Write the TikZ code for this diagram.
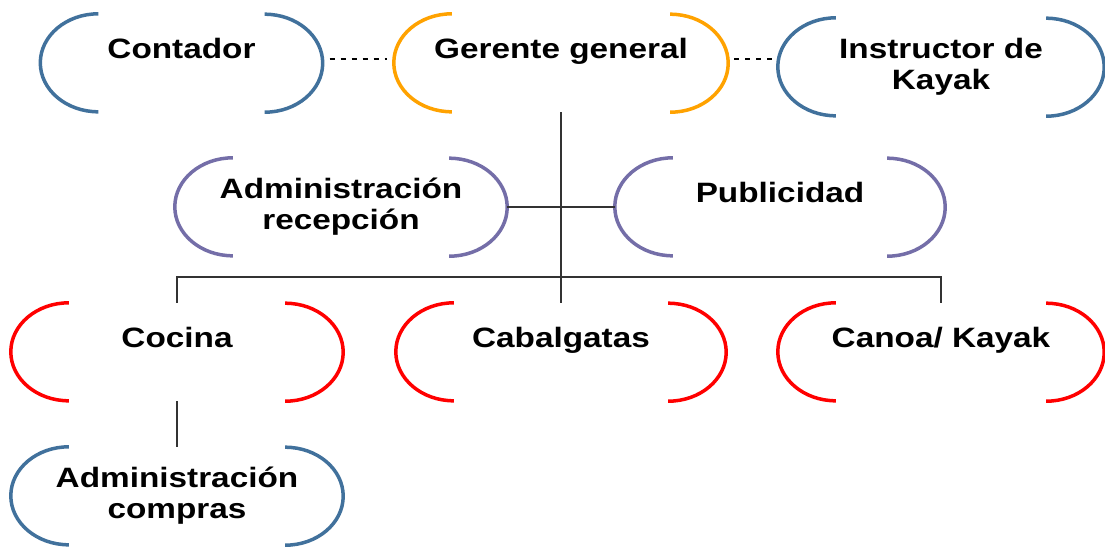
\documentclass[tikz,border=0pt]{standalone}
\usepackage{fontspec}
\newfontfamily\arial{Liberation Sans}[FakeStretch=1.19]
\definecolor{azul}{RGB}{65,113,156}
\definecolor{naranja}{RGB}{255,162,0}
\definecolor{lila}{RGB}{116,110,168}
\definecolor{rojo}{RGB}{255,0,0}

\begin{document}
\begin{tikzpicture}[x=1pt,y=1pt,font=\arial\bfseries\fontsize{28}{31}\selectfont,
  caja/.style={minimum width=330, minimum height=98, inner sep=0pt, align=center},
  arriba/.style={text height=20, text depth=30},
  enlace/.style={line width=1.3, black!80},
  punteado/.style={line width=1.2, black, dash pattern=on 5pt off 6pt}]

\useasboundingbox (0,0) rectangle (1105,-547);

\pgfmathsetmacro{\ancho}{58}
\pgfmathsetmacro{\alto}{49}

\node[caja, arriba, minimum width=282] (contador) at (181.5,-63) {Contador};
\node[caja, arriba, minimum width=334] (gerente) at (561,-63) {Gerente general};
\node[caja, minimum width=326] (instructor) at (941,-67) {Instructor de\\Kayak};

\node[caja, minimum width=332] (recepcion) at (341,-207) {Administración\\recepción};
\node[caja, arriba] (publicidad) at (780,-207) {Publicidad};

\node[caja, arriba, minimum width=332] (cocina) at (177,-352) {Cocina};
\node[caja, arriba] (cabalgatas) at (561,-352) {Cabalgatas};
\node[caja, arriba, minimum width=326] (canoa) at (941,-352) {Canoa/ Kayak};

\node[caja, minimum width=332] (compras) at (177,-496) {Administración\\compras};

\foreach \n/\c in {contador/azul, gerente/naranja, instructor/azul, recepcion/lila, publicidad/lila, cocina/rojo, cabalgatas/rojo, canoa/rojo, compras/azul}{
  \draw[\c, line width=3.5] ([xshift=\ancho]\n.north west) arc[start angle=90, end angle=270, x radius=\ancho, y radius=\alto];
  \draw[\c, line width=3.5] ([xshift=-\ancho]\n.south east) arc[start angle=-90, end angle=90, x radius=\ancho, y radius=\alto];
}

\draw[punteado] ([xshift=7,yshift=4]contador.east) -- ([xshift=-7,yshift=4]gerente.west);
\draw[punteado] ([xshift=6,yshift=4]gerente.east) -- ([xshift=-4,yshift=8]instructor.west);

\draw[enlace] (gerente.south) -- (cabalgatas.north);
\draw[enlace] (recepcion.east) -- (publicidad.west);
\coordinate (barra) at (561,-277);
\draw[enlace] (cocina.north) |- (barra) -| (canoa.north);
\draw[enlace] (cocina.south) -- (compras.north);

\end{tikzpicture}
\end{document}
